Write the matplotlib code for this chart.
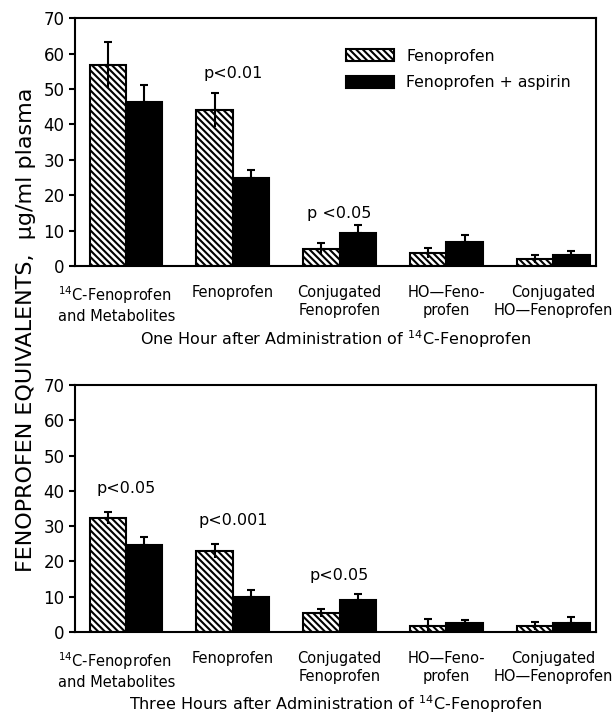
import matplotlib

matplotlib.use("Agg")
import matplotlib.pyplot as plt  # noqa: E402
import numpy as np  # noqa: E402

categories = [
    "$^{14}$C-Fenoprofen\nand Metabolites",
    "Fenoprofen",
    "Conjugated\nFenoprofen",
    "HO\u2014Feno-\nprofen",
    "Conjugated\nHO\u2014Fenoprofen",
]
series_names = ["Fenoprofen", "Fenoprofen + aspirin"]

# one hour
hour1_feno = [56.8, 44.1, 4.8, 3.7, 2.0]
hour1_feno_err = [6.5, 4.9, 1.7, 1.4, 1.1]
hour1_asp = [46.3, 24.8, 9.4, 6.8, 3.1]
hour1_asp_err = [4.8, 2.3, 2.2, 2.0, 1.2]
hour1_pvalues = {1: ("p<0.01", 54.5), 2: ("p <0.05", 14.7)}

# three hours
hour3_feno = [32.4, 23.0, 5.3, 1.8, 1.8]
hour3_feno_err = [1.7, 1.9, 1.1, 1.8, 1.1]
hour3_asp = [24.8, 10.0, 9.1, 2.5, 2.5]
hour3_asp_err = [2.2, 1.9, 1.6, 0.9, 1.7]
hour3_pvalues = {0: ("p<0.05", 40.8), 1: ("p<0.001", 31.7), 2: ("p<0.05", 15.9)}

plt.rcParams["font.family"] = "DejaVu Sans"
plt.rcParams["hatch.linewidth"] = 1.5

fs = 10.5
x = np.arange(len(categories))
w = 0.34


def draw_panel(ax, feno, feno_err, asp, asp_err, pvalues, xlabel, legend=False):
    b1 = ax.bar(x - w / 2, feno, w, facecolor="white", edgecolor="black",
                hatch="\\\\\\\\\\", linewidth=1.5, label=series_names[0])
    b2 = ax.bar(x + w / 2, asp, w, facecolor="black", edgecolor="black",
                linewidth=1.5, label=series_names[1])
    for xs, v, e in ((x - w / 2, feno, feno_err), (x + w / 2, asp, asp_err)):
        v = np.array(v)
        e = np.array(e)
        ax.errorbar(xs, v, yerr=[np.zeros_like(e), e], fmt="none", ecolor="black",
                    elinewidth=1.5, capsize=3, capthick=1.5)
        ax.errorbar(xs, v, yerr=[e, np.zeros_like(e)], fmt="none", ecolor="black",
                    elinewidth=1.5, capsize=0)
    for i, (txt, y) in pvalues.items():
        ax.text(x[i], y, txt, ha="center", va="center", fontsize=fs + 1)
    ax.set_xlim(-0.477, 4.40)
    ax.set_ylim(0, 70)
    ax.set_yticks(range(0, 71, 10))
    ax.tick_params(axis="y", labelsize=12, width=1.5, length=4)
    ax.set_xticks(x)
    ax.set_xticklabels([])
    ax.tick_params(axis="x", length=0)
    for sp in ax.spines.values():
        sp.set_linewidth(1.5)
    # category labels under the axis
    for i, lab in enumerate(categories):
        if i == 0:
            ax.text(x[i] - 0.635, -5.3, lab, ha="left", va="top", fontsize=fs,
                    linespacing=1.25, clip_on=False)
        else:
            ax.text(x[i], -5.3, lab, ha="center", va="top", fontsize=fs,
                    linespacing=1.25, clip_on=False)
    ax.text(0.5, -0.25, xlabel, transform=ax.transAxes, ha="center", va="top",
            fontsize=11.5)
    if legend:
        ax.legend(handles=[b1, b2], loc="upper left", bbox_to_anchor=(0.494, 0.935),
                  frameon=False, fontsize=11.3, handlelength=3.0, handleheight=0.85,
                  handletextpad=0.8, labelspacing=0.75)


fig = plt.figure(figsize=(6.15, 7.2), dpi=100)
ax1 = fig.add_axes([0.122, 0.6306, 0.847, 0.344])
ax2 = fig.add_axes([0.122, 0.1222, 0.847, 0.343])

draw_panel(ax1, hour1_feno, hour1_feno_err, hour1_asp, hour1_asp_err, hour1_pvalues,
           "One Hour after Administration of $^{14}$C-Fenoprofen", legend=True)
draw_panel(ax2, hour3_feno, hour3_feno_err, hour3_asp, hour3_asp_err, hour3_pvalues,
           "Three Hours after Administration of $^{14}$C-Fenoprofen")

fig.text(0.042, 0.542, "FENOPROFEN EQUIVALENTS,  \u03bcg/ml plasma", rotation=90,
         ha="center", va="center", fontsize=16)

fig.savefig("out.png", dpi=100)
